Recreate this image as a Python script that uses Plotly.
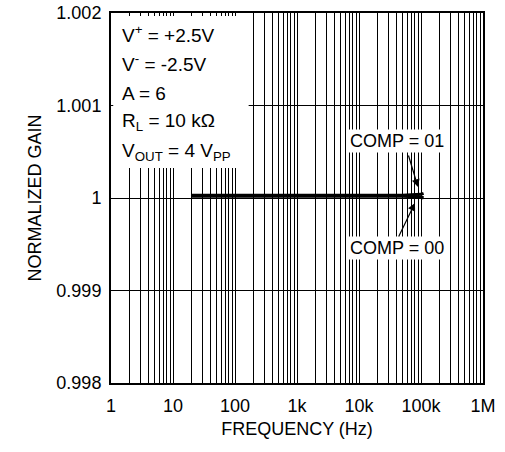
import plotly.graph_objects as go

# ---- data ----
freq = [20, 50, 100, 1000, 10000, 50000, 100000, 110000]
comp01 = [1.00003, 1.00003, 1.00003, 1.00003, 1.00003, 1.00003, 1.00004, 1.00005]
comp00 = [1.00002, 1.00002, 1.00002, 1.00002, 1.00002, 1.00002, 1.00001, 1.00000]

x_tickvals = [1, 10, 100, 1000, 10000, 100000, 1000000]
x_ticktext = ["1", "10", "100", "1k", "10k", "100k", "1M"]
y_tickvals = [0.998, 0.999, 1.0, 1.001, 1.002]
y_ticktext = ["0.998", "0.999", "1", "1.001", "1.002"]
minor_vals = [m * d for d in [1, 10, 100, 1000, 10000, 100000] for m in range(2, 10)]

conditions = ["V<sup>+</sup> = +2.5V", "V<sup>-</sup> = -2.5V", "A = 6",
              "R<sub>L</sub> = 10 kΩ", "V<sub>OUT</sub> = 4 V<sub>PP</sub>"]
cond_y = [1.00177, 1.00146, 1.00113, 1.00082, 1.00050]

FONT = "Liberation Sans, Arial, sans-serif"
TF = dict(size=18, color="black", family=FONT)

fig = go.Figure()
fig.add_trace(go.Scatter(x=freq, y=comp00, mode="lines", name="COMP = 00",
                         line=dict(color="black", width=3)))
fig.add_trace(go.Scatter(x=freq, y=comp01, mode="lines", name="COMP = 01",
                         line=dict(color="black", width=3)))

# white box behind conditions text
fig.add_shape(type="rect", xref="paper", yref="paper", x0=0.006, x1=0.37, y0=0.581, y1=0.992,
              fillcolor="white", line=dict(width=0), layer="above")

for t, yv in zip(conditions, cond_y):
    fig.add_annotation(x=0.025, xref="paper", y=yv, yref="y", text=t, showarrow=False,
                       xanchor="left", yanchor="middle", font=dict(size=19, color="black", family=FONT))

fig.add_annotation(x=4.613, y=1.000616, text="COMP = 01", showarrow=False, bgcolor="white",
                   font=TF, borderpad=1)
fig.add_annotation(x=4.613, y=0.99946, text="COMP = 00", showarrow=False, bgcolor="white",
                   font=TF, borderpad=1)
fig.add_annotation(x=4.952, y=1.000119, ax=-10, ay=-33, text="", showarrow=True,
                   arrowhead=2, arrowsize=1.3, arrowwidth=1.2, arrowcolor="black")
fig.add_annotation(x=4.903, y=0.999946, ax=-17, ay=35, text="", showarrow=True,
                   arrowhead=2, arrowsize=1.3, arrowwidth=1.2, arrowcolor="black")

fig.update_xaxes(type="log", range=[0, 6], tickvals=x_tickvals, ticktext=x_ticktext,
                 showgrid=True, gridcolor="black", gridwidth=1,
                 minor=dict(tickvals=minor_vals, showgrid=True, gridcolor="black", gridwidth=1, ticks=""),
                 showline=True, linecolor="black", linewidth=2, mirror=True,
                 ticks="", ticklabelstandoff=5, zeroline=False, ticklabeloverflow="allow",
                 tickfont=TF,
                 title=dict(text="FREQUENCY (Hz)", standoff=8, font=TF))
fig.update_yaxes(range=[0.998, 1.002], tickvals=y_tickvals, ticktext=y_ticktext,
                 showgrid=True, gridcolor="black", gridwidth=1,
                 showline=True, linecolor="black", linewidth=2, mirror=True,
                 ticks="", ticklabelstandoff=4, zeroline=False, ticklabeloverflow="allow",
                 tickfont=TF,
                 title=dict(text="NORMALIZED GAIN", standoff=10, font=TF))

fig.update_layout(width=505, height=452, margin=dict(l=111, r=22, t=13, b=69, autoexpand=False),
                  plot_bgcolor="white", paper_bgcolor="white", showlegend=False)

# remove the page's default 8px body margin so the figure sits at the window's top-left
fig.write_html("out.html", config={"displayModeBar": False},
               post_script="document.body.style.margin='0';")
